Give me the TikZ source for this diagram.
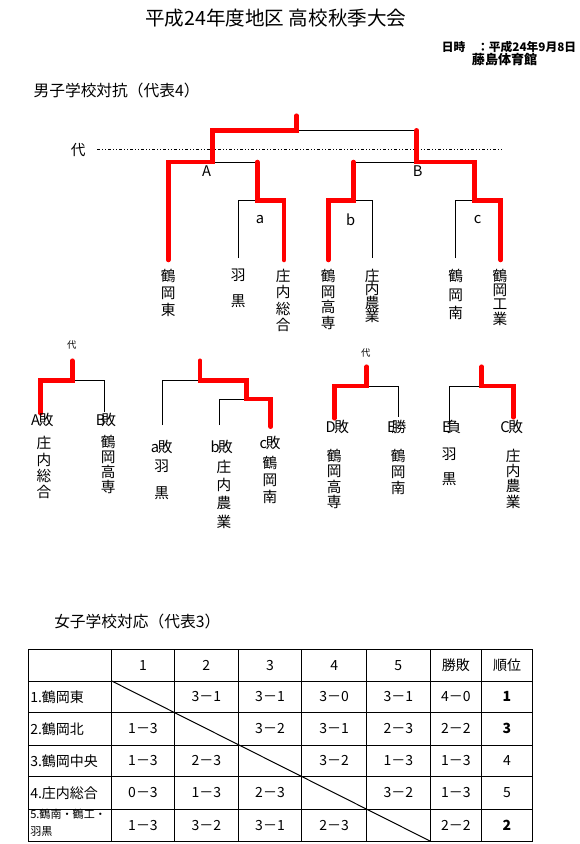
\documentclass[tikz,border=0pt]{standalone}
\usepackage{fontspec}
\setmainfont{Noto Sans CJK JP}
\begin{document}
\begin{tikzpicture}[x=0.75pt,y=-0.75pt,
  win/.style={draw=red,line width=3.4pt,line cap=round,line join=miter},
  lose/.style={draw=black,line width=0.75pt},
  vname/.style={font={\fontsize{11}{#1}\selectfont\lineskiplimit=-50pt},align=center,anchor=north,inner sep=0pt},
  lbl/.style={font=\fontsize{11}{13}\selectfont,inner sep=0pt},
  cell/.style={font=\fontsize{10.5}{12}\selectfont,inner sep=0pt},
  sect/.style={font=\fontsize{11.8}{14}\selectfont,inner sep=0pt,anchor=west},
  daiS/.style={font=\fontsize{7}{8}\selectfont,inner sep=0pt},
  dotline/.style={draw=black,line width=0.75pt,dash pattern=on 2.25pt off 1.5pt on 0.75pt off 1.5pt on 0.75pt off 1.5pt}
]
\useasboundingbox (0,0) rectangle (580,844);

% ---------- titles ----------
\node[font=\fontsize{14.7}{17}\selectfont,inner sep=0pt] (title) at (275.8,18.3) {平成24年度地区 高校秋季大会};
\node[font=\fontsize{8.8}{10}\selectfont\bfseries,inner sep=0pt,anchor=west] (date) at (441.7,47) {日時　：平成24年9月8日};
\node[font=\fontsize{9.8}{11}\selectfont\bfseries,inner sep=0pt,anchor=west] (place) at (471.7,60) {藤島体育館};
\node[sect] (boys) at (33.3,90.7) {男子学校対抗（代表4）};

% ---------- main bracket ----------
\node[lbl] (dai) at (78.3,150) {代};
\coordinate (d1) at (97.3,149.3);
\coordinate (d2) at (503.3,149.3);
\draw[dotline] (d1) -- (d2);

\coordinate (top) at (296.5,115.7);
\coordinate (fT) at (296.5,130.3);
\coordinate (fL) at (212.7,130.3);
\coordinate (fR) at (416.7,130.3);
\coordinate (sA) at (212.7,162);
\coordinate (sB) at (416.7,162);
\coordinate (sAl) at (168.3,162);
\coordinate (sAr) at (257.3,162);
\coordinate (sBl) at (353.3,162);
\coordinate (sBr) at (474.3,162);
\coordinate (qa) at (257.3,200.7);
\coordinate (qal) at (238.7,200.7);
\coordinate (qar) at (284,200.7);
\coordinate (qb) at (353.3,200.7);
\coordinate (qbl) at (328.3,200.7);
\coordinate (qbr) at (372.3,200.7);
\coordinate (qc) at (474.3,200.7);
\coordinate (qcl) at (455.7,200.7);
\coordinate (qcr) at (500.7,200.7);
\coordinate (e1) at (168.3,260);
\coordinate (e2) at (238.7,258);
\coordinate (e3) at (284,260);
\coordinate (e4) at (328.3,260);
\coordinate (e5) at (372.3,258);
\coordinate (e6) at (455.7,258);
\coordinate (e7) at (500.7,260);

\draw[lose] (fT) -- (fR);
\draw[lose] (sA) -- (sAr);
\draw[lose] (sBl) -- (sB);
\draw[lose] (e2) -- (qal) -- (qa);
\draw[lose] (qb) -- (qbr) -- (e5);
\draw[lose] (e6) -- (qcl) -- (qc);

\draw[win] (e1) -- (sAl) -- (sA) -- (fL) -- (fT) -- (top);
\draw[win] (e3) -- (qar) -- (qa) -- (sAr);
\draw[win] (e4) -- (qbl) -- (qb) -- (sBl);
\draw[win] (e7) -- (qcr) -- (qc) -- (sBr) -- (sB) -- (fR);

\node[lbl] (lA) at (206.7,171) {A};
\node[lbl] (lBm) at (417.7,171) {B};
\node[lbl] (la) at (260,220) {a};
\node[lbl] (lbm) at (350.7,220) {b};
\node[lbl] (lcm) at (477.7,220) {c};

\node[vname=12.75pt] (n1) at (168.3,269) {鶴\\岡\\東};
\node[vname=19.5pt] (n2) at (238.3,269) {羽\\黒};
\node[vname=12.2pt] (n3) at (283.3,269) {庄\\内\\総\\合};
\node[vname=11.7pt] (n4) at (328.3,269) {鶴\\岡\\高\\専};
\node[vname=10pt] (n5) at (372.3,269) {庄\\内\\農\\業};
\node[vname=14pt] (n6) at (455.7,269) {鶴\\岡\\南};
\node[vname=10.6pt] (n7) at (500,269) {鶴\\岡\\工\\業};

% ---------- lower bracket 1 ----------
\node[daiS] (dai1) at (71.7,345) {代};
\coordinate (p1t) at (72.3,360.7);
\coordinate (p1m) at (72.3,380.7);
\coordinate (p1l) at (40.7,380.7);
\coordinate (p1r) at (104.3,380.7);
\coordinate (p1le) at (40.7,413.3);
\coordinate (p1re) at (104.3,411.7);
\draw[lose] (p1m) -- (p1r) -- (p1re);
\draw[win] (p1le) -- (p1l) -- (p1m) -- (p1t);
\node[lbl] (kA) at (42.3,420) {A\kern-1pt 敗};
\node[lbl] (kB) at (106,420) {B\kern-3pt 敗};
\node[vname=12.1pt] (m1) at (44,436.3) {庄\\内\\総\\合};
\node[vname=11.25pt] (m2) at (108.3,434.7) {鶴\\岡\\高\\専};

% ---------- lower bracket 2 ----------
\coordinate (p2t) at (200,360.7);
\coordinate (p2m) at (200,380.7);
\coordinate (p2l) at (162.7,380.7);
\coordinate (p2r) at (246.7,380.7);
\coordinate (p2le) at (162.7,425);
\coordinate (p2j) at (246.7,399);
\coordinate (p2jl) at (219.3,399);
\coordinate (p2jr) at (270.7,399);
\coordinate (p2jle) at (219.3,425);
\coordinate (p2jre) at (270.7,426.7);
\draw[lose] (p2le) -- (p2l) -- (p2m);
\draw[lose] (p2jle) -- (p2jl) -- (p2j);
\draw[win] (p2jre) -- (p2jr) -- (p2j) -- (p2r) -- (p2m) -- (p2t);
\node[lbl] (ka) at (161.7,446.7) {a\kern-1pt 敗};
\node[lbl] (kb) at (221.7,446.7) {b\kern-1pt 敗};
\node[lbl] (kc) at (270,443.3) {c\kern-1pt 敗};
\node[vname=20pt] (m3) at (161.7,459.7) {羽\\黒};
\node[vname=13.7pt] (m4) at (224,459.7) {庄\\内\\農\\業};
\node[vname=12.5pt] (m5) at (270,456.3) {鶴\\岡\\南};

% ---------- lower bracket 3 ----------
\node[daiS] (dai3) at (365.7,352.7) {代};
\coordinate (p3t) at (366.7,366.7);
\coordinate (p3m) at (366.7,386);
\coordinate (p3l) at (334.3,386);
\coordinate (p3r) at (398.3,386);
\coordinate (p3le) at (334.3,418.3);
\coordinate (p3re) at (398.3,417.3);
\draw[lose] (p3m) -- (p3r) -- (p3re);
\draw[win] (p3le) -- (p3l) -- (p3m) -- (p3t);
\node[lbl] (kD) at (337.3,427.3) {D\kern-1pt 敗};
\node[lbl] (kE) at (396.7,427.3) {E\kern-3pt 勝};
\node[vname=11.4pt] (m6) at (334.3,449) {鶴\\岡\\高\\専};
\node[vname=12pt] (m7) at (398.3,449) {鶴\\岡\\南};

% ---------- lower bracket 4 ----------
\coordinate (p4t) at (481.7,366.7);
\coordinate (p4m) at (481.7,386);
\coordinate (p4l) at (449.3,386);
\coordinate (p4r) at (513.3,386);
\coordinate (p4le) at (449.3,424);
\coordinate (p4re) at (513.3,417.3);
\draw[lose] (p4le) -- (p4l) -- (p4m);
\draw[win] (p4re) -- (p4r) -- (p4m) -- (p4t);
\node[lbl] (kF) at (451.7,427.3) {E\kern-3pt 負};
\node[lbl] (kC) at (511.7,427.3) {C\kern-1pt 敗};
\node[vname=18.75pt] (m8) at (449.3,448) {羽\\黒};
\node[vname=11.4pt] (m9) at (513.3,449) {庄\\内\\農\\業};

% ---------- girls table ----------
\node[sect] (girls) at (54,621.5) {女子学校対応（代表3）};
\draw[lose] (28.3,649.3) rectangle (532.3,841);
\foreach \x in {111.7,174.3,238.3,301.7,366.7,430,481.7}
  \draw[lose] (\x,649.3) -- (\x,841);
\foreach \y in {681,712.7,745,776.7,809}
  \draw[lose] (28.3,\y) -- (532.3,\y);
\coordinate (dg1) at (111.7,681);
\coordinate (dg2) at (430,841);
\draw[lose] (dg1) -- (dg2);

\foreach \x/\t [count=\i] in {143/1,206.3/2,270/3,334.2/4,398.3/5,455.8/勝敗,507/順位}
  \node[cell] (h\i) at (\x,665.2) {\t};

\node[cell,anchor=west] (r1) at (30,696.8) {1.鶴岡東};
\node[cell,anchor=west] (r2) at (30,728.8) {2.鶴岡北};
\node[cell,anchor=west] (r3) at (30,760.8) {3.鶴岡中央};
\node[cell,anchor=west] (r4) at (30,792.8) {4.庄内総合};
\node[cell,anchor=west,align=left,font=\fontsize{8.3}{13}\selectfont] (r5) at (30,823) {5.鶴南・鶴工・\\羽黒};

\foreach \x/\t [count=\i] in {206.3/3－1,270/3－1,334.2/3－0,398.3/3－1,455.8/4－0}
  \node[cell] (a\i) at (\x,696.8) {\t};
\node[cell,font=\fontsize{10.5}{12}\selectfont\bfseries] (a6) at (507,696.8) {1};

\foreach \x/\t [count=\i] in {143/1－3,270/3－2,334.2/3－1,398.3/2－3,455.8/2－2}
  \node[cell] (b\i) at (\x,728.8) {\t};
\node[cell,font=\fontsize{10.5}{12}\selectfont\bfseries] (b6) at (507,728.8) {3};

\foreach \x/\t [count=\i] in {143/1－3,206.3/2－3,334.2/3－2,398.3/1－3,455.8/1－3,507/4}
  \node[cell] (c\i) at (\x,760.8) {\t};

\foreach \x/\t [count=\i] in {143/0－3,206.3/1－3,270/2－3,398.3/3－2,455.8/1－3,507/5}
  \node[cell] (g\i) at (\x,792.8) {\t};

\foreach \x/\t [count=\i] in {143/1－3,206.3/3－2,270/3－1,334.2/2－3,455.8/2－2}
  \node[cell] (f\i) at (\x,825) {\t};
\node[cell,font=\fontsize{10.5}{12}\selectfont\bfseries] (f6) at (507,825) {2};

\end{tikzpicture}
\end{document}
